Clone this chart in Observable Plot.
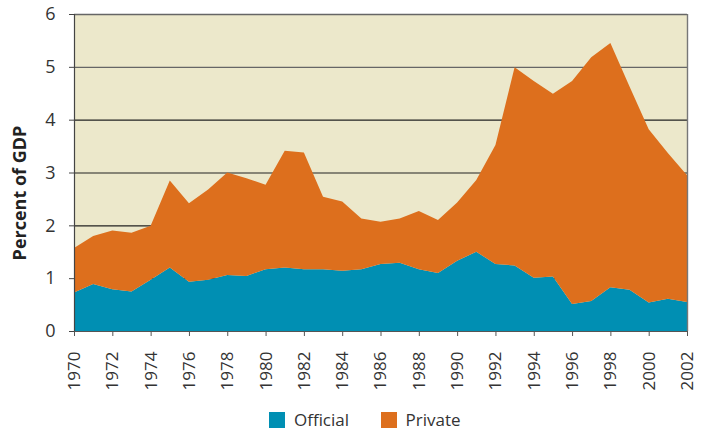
<!DOCTYPE html>
<html>
<head>
<meta charset="utf-8">
<script src="https://cdn.jsdelivr.net/npm/d3@7"></script>
<script src="https://cdn.jsdelivr.net/npm/@observablehq/plot@0.6"></script>
<style>
  html, body { margin: 0; padding: 0; background: #fff; }
  #chart { width: 708px; font-family: "Open Sans", sans-serif; }
  .lg-swatches-wrap { justify-content: center; }
  .lg-swatch { margin-right: 32px !important; line-height: 20px; }
</style>
</head>
<body>
<div id="chart"></div>
<script>
const years = d3.range(1970, 2003);
const official = [0.73, 0.89, 0.79, 0.75, 0.97, 1.20, 0.93, 0.97, 1.06, 1.04,
  1.17, 1.20, 1.17, 1.17, 1.14, 1.17, 1.27, 1.29, 1.17, 1.10,
  1.33, 1.50, 1.27, 1.24, 1.01, 1.03, 0.51, 0.57, 0.83, 0.78,
  0.54, 0.61, 0.55];
const total = [1.57, 1.80, 1.90, 1.86, 1.99, 2.85, 2.42, 2.68, 3.00, 2.89,
  2.77, 3.41, 3.38, 2.54, 2.45, 2.13, 2.07, 2.13, 2.27, 2.10,
  2.43, 2.86, 3.52, 4.99, 4.73, 4.49, 4.73, 5.18, 5.45, 4.63,
  3.82, 3.37, 2.95];
const privateFlows = total.map((t, i) => +(t - official[i]).toFixed(2));
const seriesNames = ["Official", "Private"];
const seriesColors = ["#008FB3", "#DD6F1D"];
const yTicks = [0, 1, 2, 3, 4, 5, 6];
const xTicks = d3.range(1970, 2003, 2);

const data = [
  ...years.map((year, i) => ({year, type: "Official", value: official[i]})),
  ...years.map((year, i) => ({year, type: "Private", value: privateFlows[i]}))
];

const plot = Plot.plot({
  width: 708,
  height: 408,
  marginTop: 14,
  marginLeft: 74,
  marginRight: 21,
  marginBottom: 77,
  style: {fontFamily: "Open Sans, sans-serif", fontSize: "17px", color: "#333", background: "#fff", display: "block"},
  x: {domain: [1970, 2002]},
  y: {domain: [0, 6]},
  color: {domain: seriesNames, range: seriesColors},
  marks: [
    Plot.frame({fill: "#ECE8CB", stroke: null}),
    Plot.ruleY(yTicks.filter(d => d > 0 && d < 5), {stroke: "#222", strokeWidth: 1.2}),
    Plot.ruleY(yTicks.filter(d => d >= 5), {stroke: "#666", strokeWidth: 1.4}),
    Plot.areaY(data, {x: "year", y: "value", fill: "type", order: seriesNames}),
    Plot.ruleX([2002], {stroke: "#777", strokeWidth: 1.4}),
    Plot.ruleX([1970], {stroke: "#444", strokeWidth: 1.2}),
    Plot.ruleY([0], {stroke: "#555", strokeWidth: 1.2}),
    Plot.axisY({ticks: yTicks, tickFormat: d3.format("d"), tickSize: 5, tickPadding: 14, label: null, stroke: "#444", fill: "#333", fontSize: 18}),
    Plot.axisX({ticks: xTicks, tickFormat: d => String(d), tickRotate: -90, tickSize: 5, tickPadding: 15, label: null, stroke: "#555", fill: "#333", fontSize: 17}),
    Plot.text(["Percent of GDP"], {
      frameAnchor: "left", rotate: -90, dx: -54, dy: 20,
      fontSize: 18, fontWeight: "bold", fill: "#222", textAnchor: "middle"
    })
  ]
});

const legend = Plot.legend({
  color: {domain: seriesNames, range: seriesColors},
  className: "lg",
  swatchSize: 16,
  style: {fontFamily: "Open Sans, sans-serif", fontSize: "17px", lineHeight: "20px", color: "#333", justifyContent: "center", minHeight: "23px", height: "23px", margin: "0", paddingLeft: "54px", paddingTop: "0", overflow: "visible"}
});

const root = document.getElementById("chart");
root.appendChild(plot);
root.appendChild(legend);
</script>
</body>
</html>
